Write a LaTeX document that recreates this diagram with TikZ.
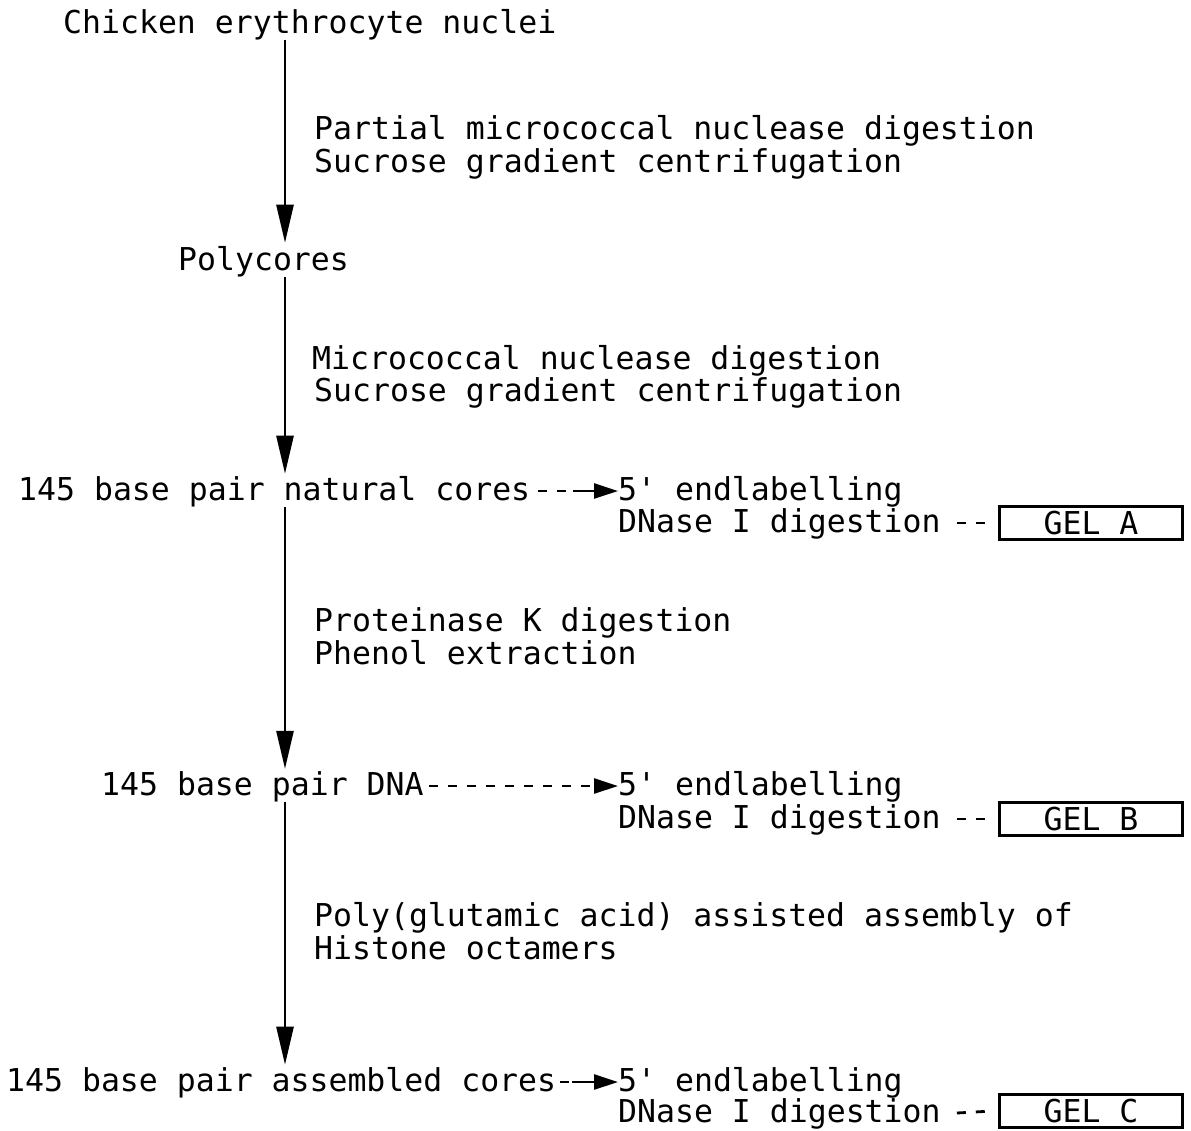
\documentclass[tikz,border=0pt]{standalone}
\usepackage{fontspec}
\setmonofont{DejaVu Sans Mono}
\usetikzlibrary{arrows.meta}
\begin{document}
\begin{tikzpicture}[x=1pt,y=-1pt,
  txt/.style={font=\ttfamily\fontsize{31.5}{33}\selectfont, inner sep=0pt, anchor=base west},
  flow/.style={line width=2.6pt, -{Triangle[width=17pt,length=38pt]}},
  hy/.style={line width=2.8pt, dash pattern=on 9pt off 10pt},
  tip/.style={line width=2.6pt, -{Triangle[width=15pt,length=24pt]}},
  gelbox/.style={draw, line width=2.4pt, minimum width=183pt, minimum height=33pt, inner sep=0pt,
    font=\ttfamily\fontsize{31.5}{33}\selectfont}]
\useasboundingbox (0,0) rectangle (1191,1130);
\coordinate (vx) at (285,0);

% main column
\node[txt] (chk)  at (63,33)   {Chicken erythrocyte nuclei};
\node[txt] (s1a)  at (314,139) {Partial micrococcal nuclease digestion};
\node[txt] (s1b)  at (314,172) {Sucrose gradient centrifugation};
\node[txt] (poly) at (178,270) {Polycores};
\node[txt] (s2a)  at (312,369) {Micrococcal nuclease digestion};
\node[txt] (s2b)  at (314,401) {Sucrose gradient centrifugation};
\node[txt] (nat)  at (18,500)  {145 base pair natural cores};
\node[txt] (s3a)  at (314,631) {Proteinase K digestion};
\node[txt] (s3b)  at (314,664) {Phenol extraction};
\node[txt] (dna)  at (101,795) {145 base pair DNA};
\node[txt] (s4a)  at (314,926) {Poly(glutamic acid) assisted assembly of};
\node[txt] (s4b)  at (314,959) {Histone octamers};
\node[txt] (asm)  at (6,1091)  {145 base pair assembled cores};

% right column
\node[txt] (e1) at (618,500)  {5' endlabelling};
\node[txt] (d1) at (618,532)  {DNase I digestion};
\node[gelbox] (ga) at (1091,523) {GEL A};
\node[txt] (e2) at (618,795)  {5' endlabelling};
\node[txt] (d2) at (618,828)  {DNase I digestion};
\node[gelbox] (gb) at (1091,819) {GEL B};
\node[txt] (e3) at (618,1091) {5' endlabelling};
\node[txt] (d3) at (618,1122) {DNase I digestion};
\node[gelbox] (gc) at (1091,1111) {GEL C};

% vertical arrows
\draw[flow, shorten >=3pt] (chk.south -| vx) -- (poly.north -| vx);
\draw[flow, shorten >=2pt] (poly.south -| vx) -- (nat.north -| vx);
\draw[flow, shorten >=2pt] (nat.south -| vx) -- (dna.north -| vx);
\draw[flow, shorten >=2pt] (dna.south -| vx) -- (asm.north -| vx);

% horizontal dashed arrows
\coordinate (h1) at ([xshift=-45pt,yshift=9pt]e1.base west);
\draw[hy]  ([xshift=8pt,yshift=9pt]nat.base east) -- (h1);
\draw[tip] (h1) -- ([yshift=9pt]e1.base west);
\coordinate (h2) at ([xshift=-24pt,yshift=9pt]e2.base west);
\draw[hy]  ([xshift=5pt,yshift=9pt]dna.base east) -- (h2);
\draw[tip] (h2) -- ([yshift=9pt]e2.base west);
\coordinate (h3) at ([xshift=-46pt,yshift=9pt]e3.base west);
\draw[hy]  ([xshift=4pt,yshift=9pt]asm.base east) -- (h3);
\draw[tip] (h3) -- ([yshift=9pt]e3.base west);

% dashes to gels
\draw[hy] ([xshift=16pt,yshift=9pt]d1.base east) -- ([xshift=-6pt]ga.west);
\draw[hy] ([xshift=16pt,yshift=9pt]d2.base east) -- ([xshift=-6pt]gb.west);
\draw[hy] ([xshift=16pt,yshift=9pt]d3.base east) -- ([xshift=-6pt]gc.west);
\end{tikzpicture}
\end{document}
